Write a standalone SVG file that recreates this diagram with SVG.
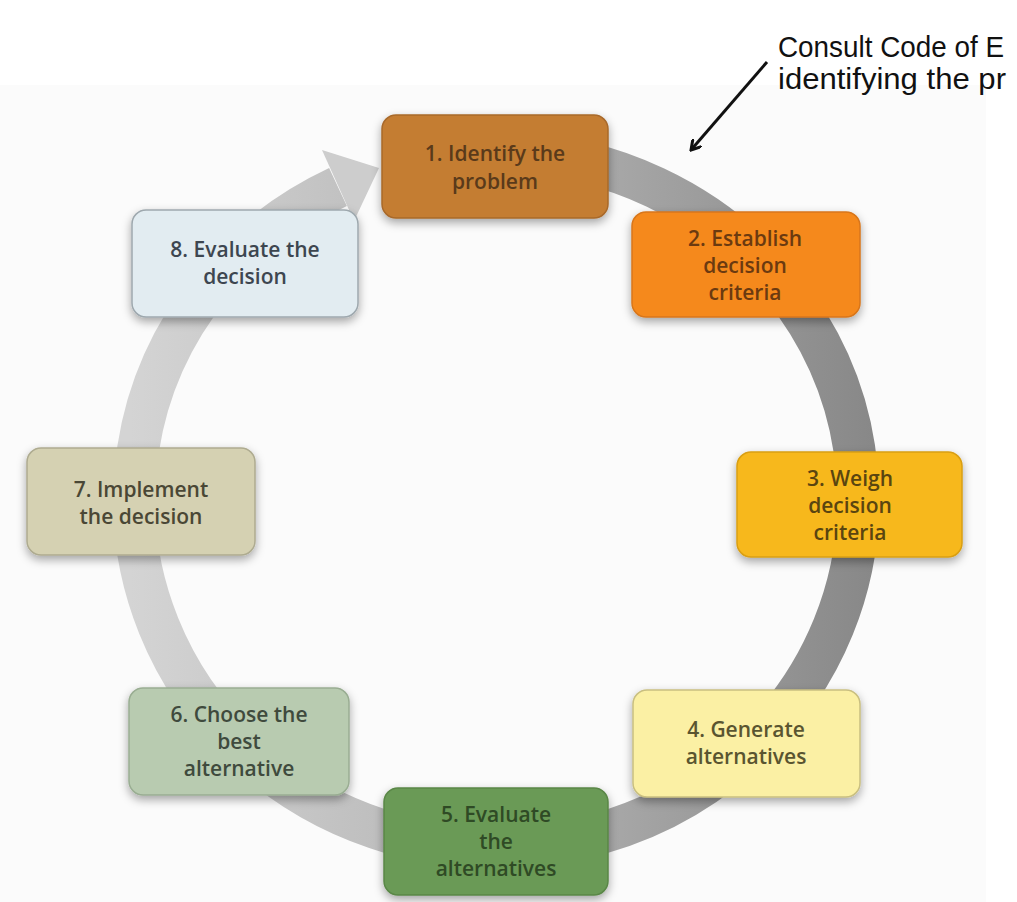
<svg xmlns="http://www.w3.org/2000/svg" width="1017" height="902" viewBox="0 0 1017 902">
<style>
.lbl{font-family:"Open Sans","Liberation Sans",sans-serif;font-size:21px;font-weight:600;text-anchor:middle}
.note{font-family:"Liberation Sans",Arial,sans-serif;font-size:29px;fill:#111}
.box{stroke-width:1.5}
</style>
<defs>
<filter id="sh" x="-20%" y="-20%" width="140%" height="150%">
<feDropShadow dx="0" dy="4" stdDeviation="5" flood-color="#000" flood-opacity="0.35"/>
</filter>
<linearGradient id="ringg" gradientUnits="userSpaceOnUse" x1="130" y1="0" x2="880" y2="0">
<stop offset="0" stop-color="#d4d4d4"/>
<stop offset="0.5" stop-color="#b4b4b4"/>
<stop offset="1" stop-color="#878787"/>
</linearGradient>
<marker id="ah" markerWidth="12" markerHeight="12" refX="10" refY="6" orient="auto" markerUnits="userSpaceOnUse">
<path d="M0,0 L10,6 L0,12" fill="none" stroke="#111" stroke-width="3"/>
</marker>
</defs>
<rect x="0" y="85" width="986" height="817" fill="#fbfbfb"/>
<g id="connectors">
<path d="M 496 152 A 362 348 0 1 1 338 187" fill="none" stroke="url(#ringg)" stroke-width="42"/>
<polygon points="379,168 354,221 322,150" fill="#cdcdcd"/>
<line x1="767" y1="62" x2="691" y2="150" stroke="#111" stroke-width="3" marker-end="url(#ah)"/>
</g>
<g id="node1">
<rect class="box" x="382" y="115" width="226" height="103" rx="14" fill="#c47d33" stroke="#a8692a" filter="url(#sh)"/>
<text class="lbl" fill="#5a3a1a"><tspan x="495" y="161">1. Identify the</tspan><tspan x="495" y="189">problem</tspan></text>
</g>
<g id="node2">
<rect class="box" x="632" y="212" width="228" height="105" rx="14" fill="#f5891f" stroke="#d8761a" filter="url(#sh)"/>
<text class="lbl" fill="#6b3a10"><tspan x="745" y="246">2. Establish</tspan><tspan x="745" y="273">decision</tspan><tspan x="745" y="300">criteria</tspan></text>
</g>
<g id="node3">
<rect class="box" x="737" y="452" width="225" height="105" rx="14" fill="#f7b81a" stroke="#d99e12" filter="url(#sh)"/>
<text class="lbl" fill="#5a4510"><tspan x="850" y="486">3. Weigh</tspan><tspan x="850" y="513">decision</tspan><tspan x="850" y="540">criteria</tspan></text>
</g>
<g id="node4">
<rect class="box" x="633" y="690" width="227" height="107" rx="14" fill="#fbf0a4" stroke="#c9bf80" filter="url(#sh)"/>
<text class="lbl" fill="#5a5530"><tspan x="746" y="737">4. Generate</tspan><tspan x="746" y="764">alternatives</tspan></text>
</g>
<g id="node5">
<rect class="box" x="384" y="788" width="224" height="107" rx="14" fill="#6a9a56" stroke="#5a8747" filter="url(#sh)"/>
<text class="lbl" fill="#2f4a25"><tspan x="496" y="822">5. Evaluate</tspan><tspan x="496" y="849">the</tspan><tspan x="496" y="876">alternatives</tspan></text>
</g>
<g id="node6">
<rect class="box" x="129" y="688" width="220" height="107" rx="14" fill="#b8cbb0" stroke="#99ad92" filter="url(#sh)"/>
<text class="lbl" fill="#3f4a3d"><tspan x="239" y="722">6. Choose the</tspan><tspan x="239" y="749">best</tspan><tspan x="239" y="776">alternative</tspan></text>
</g>
<g id="node7">
<rect class="box" x="27" y="448" width="228" height="107" rx="14" fill="#d5d1b2" stroke="#aeab90" filter="url(#sh)"/>
<text class="lbl" fill="#4a4735"><tspan x="141" y="497">7. Implement</tspan><tspan x="141" y="524">the decision</tspan></text>
</g>
<g id="node8">
<rect class="box" x="132" y="210" width="226" height="107" rx="14" fill="#e2ecf1" stroke="#9ea8ae" filter="url(#sh)"/>
<text class="lbl" fill="#3d4650"><tspan x="245" y="257">8. Evaluate the</tspan><tspan x="245" y="284">decision</tspan></text>
</g>
<g id="annotation">
<text class="note" x="778" y="57" textLength="226" lengthAdjust="spacingAndGlyphs">Consult Code of E</text>
<text class="note" x="778" y="89" textLength="228" lengthAdjust="spacingAndGlyphs">identifying the pr</text>
</g>
</svg>
